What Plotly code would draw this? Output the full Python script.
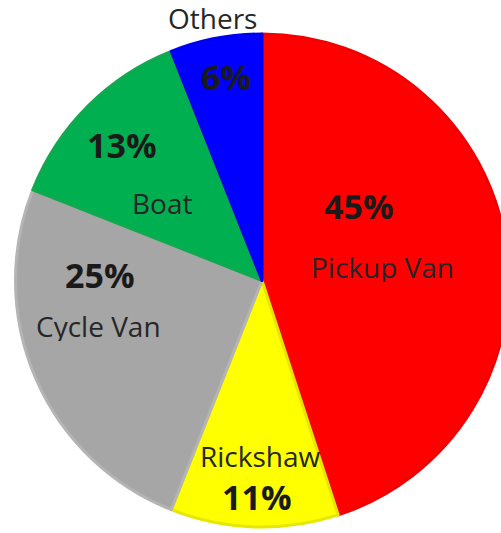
import plotly.graph_objects as go

# ---- data ----
categories = ["Pickup Van", "Rickshaw", "Cycle Van", "Boat", "Others"]
shares = [45, 11, 25, 13, 6]
pct_labels = ["45%", "11%", "25%", "13%", "6%"]

# ---- styles ----
colors = ["#FF0000", "#FFFF00", "#A6A6A6", "#00B050", "#0000FF"]
edge_colors = ["#F20000", "#E6E600", "#B4B4B4", "#12A850", "#0000F0"]

W, H = 520, 533
ML, MR, MT, MB = 15, 11, 34, 6
PW, PH = W - ML - MR, H - MT - MB

def px(x):
    return (x - ML) / PW

def py(y):
    return 1 - (y - MT) / PH

# label layout (pixel positions in the picture): percent label, name label
pct_pos = [(359, 206), (257, 497), (100, 275), (122, 145), (226, 77)]
name_pos = [(382, 267), (260, 456), (98, 326), (162, 203), (212, 18)]

fig = go.Figure(go.Pie(
    labels=categories,
    values=shares,
    sort=False,
    direction="clockwise",
    rotation=0,
    marker=dict(colors=colors, line=dict(color=edge_colors, width=3)),
    textinfo="none",
    hoverinfo="label+percent",
    showlegend=False,
))

FONT = "Open Sans"
ann = []
for i, cat in enumerate(categories):
    x, y = pct_pos[i]
    ann.append(dict(x=px(x), y=py(y), xref="paper", yref="paper", text="<b>" + pct_labels[i] + "</b>",
                    showarrow=False, font=dict(family=FONT, size=34, color="#1a1a1a"),
                    xanchor="center", yanchor="middle", height=36))
    x, y = name_pos[i]
    ann.append(dict(x=px(x), y=py(y), xref="paper", yref="paper", text=cat,
                    showarrow=False, font=dict(family=FONT, size=28, color="#262626"),
                    xanchor="center", yanchor="middle", height=30))

fig.update_layout(
    width=W, height=H,
    margin=dict(l=ML, r=MR, t=MT, b=MB),
    paper_bgcolor="white",
    plot_bgcolor="white",
    annotations=ann,
)

fig.write_html("out.html", post_script="document.body.style.overflow='hidden';document.documentElement.style.overflow='hidden';")
